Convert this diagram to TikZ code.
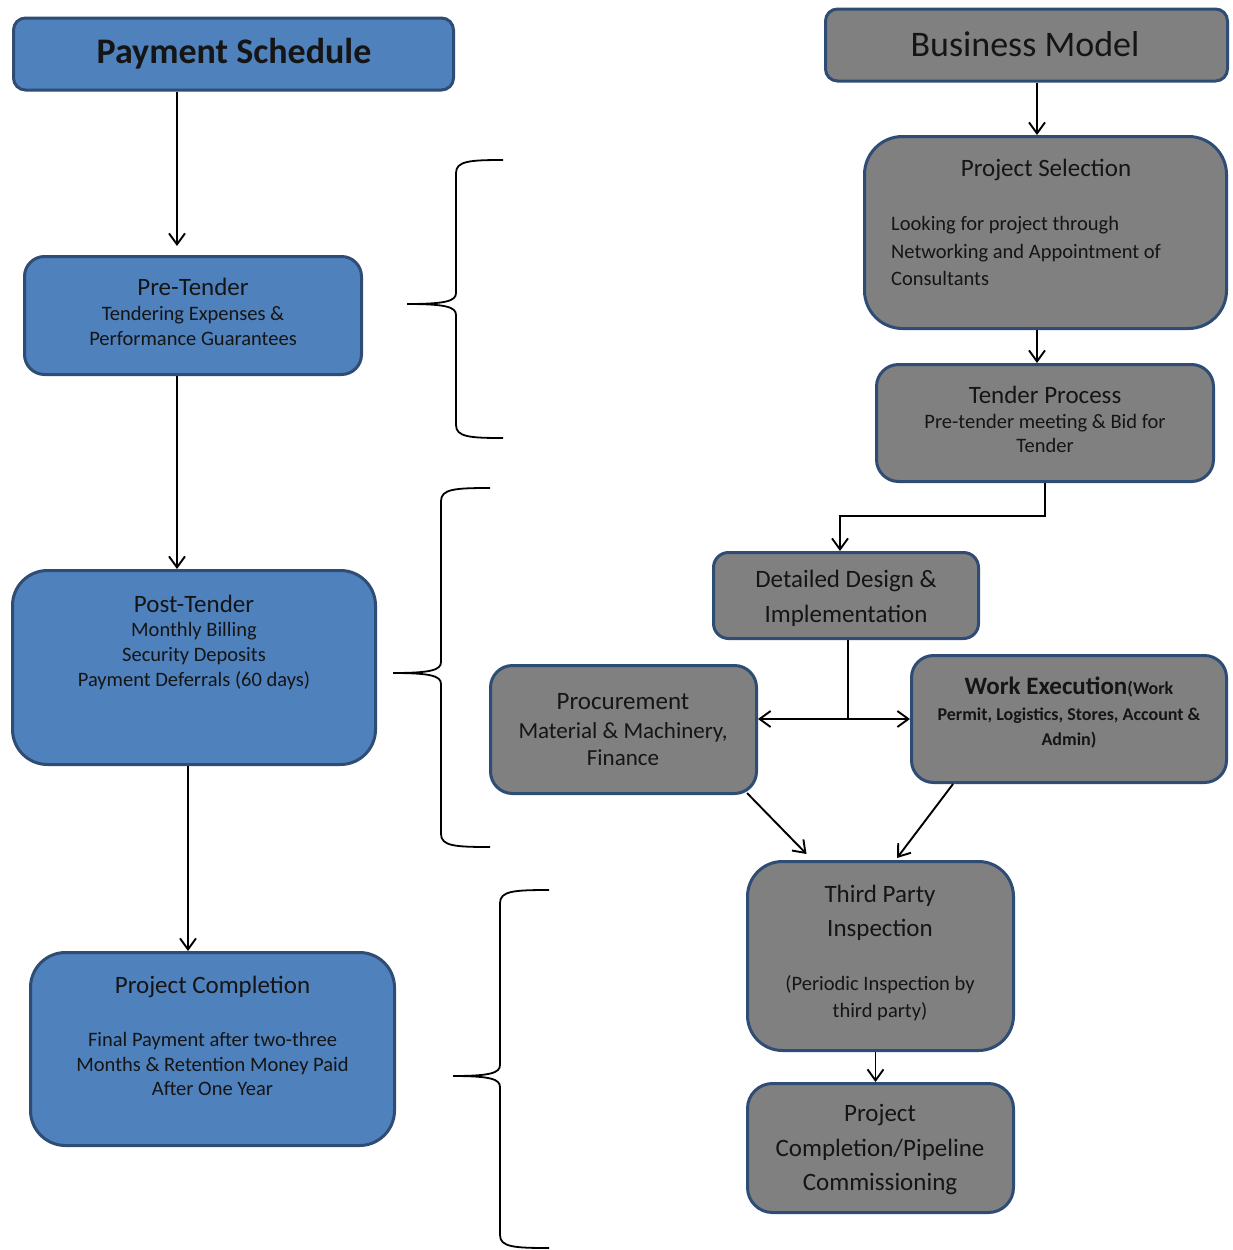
\documentclass[tikz,border=0pt]{standalone}
\usepackage{fontspec}
\setmainfont{Carlito}
\usetikzlibrary{arrows.meta}
\definecolor{bfill}{HTML}{4F81BD}
\definecolor{bdraw}{HTML}{2E4C74}
\definecolor{gfill}{HTML}{808080}
\definecolor{tcol}{HTML}{151515}
\newcommand\curlybr[6]{%
  \draw[brace] (#1,#4) .. controls ({#2+14},#4) and (#2,{#4+1}) .. (#2,{#4+13})
    -- (#2,{#5-11}) .. controls (#2,{#5-3}) and ({#2-10},#5) .. (#3,#5)
    .. controls ({#2-10},#5) and (#2,{#5+3}) .. (#2,{#5+11})
    -- (#2,{#6-13}) .. controls (#2,{#6-1}) and ({#2+14},#6) .. (#1,#6);}
\begin{document}
\begin{tikzpicture}[x=1pt,y=-1pt,
  box/.style={draw=bdraw, line width=3pt, rectangle, inner sep=0pt},
  bluebox/.style={box, fill=bfill},
  graybox/.style={box, fill=gfill},
  txt/.style={inner sep=0pt, align=center, text=tcol},
  ttl/.style={txt, font=\fontsize{25}{29}\selectfont},
  sub/.style={txt, font=\fontsize{20.5}{25}\selectfont},
  tip/.style={Straight Barb[length=11pt,width=16pt]},
  arr/.style={line width=1.9pt, -{Straight Barb[length=11pt,width=16pt]}},
  darr/.style={line width=1.9pt, {Straight Barb[length=11pt,width=16pt]}-{Straight Barb[length=11pt,width=16pt]}},
  brace/.style={line width=1.8pt}]
\useasboundingbox (0,0) rectangle (1232,1250);

% ---------- left column boxes ----------
\node[bluebox, rounded corners=12pt, minimum width=440pt, minimum height=72pt] (pay) at (233.5,54) {};
\node[bluebox, rounded corners=20pt, minimum width=337pt, minimum height=118pt] (pre) at (193,315.5) {};
\node[bluebox, rounded corners=35pt, minimum width=363pt, minimum height=194pt] (post) at (194,667.5) {};
\node[bluebox, rounded corners=35pt, minimum width=364pt, minimum height=193pt] (pcl) at (212.5,1049) {};

% ---------- right column boxes ----------
\node[graybox, rounded corners=12pt, minimum width=402pt, minimum height=72pt] (bm) at (1026.5,45) {};
\node[graybox, rounded corners=38pt, minimum width=362pt, minimum height=192pt] (ps) at (1045.5,232.5) {};
\node[graybox, rounded corners=22pt, minimum width=337pt, minimum height=117pt] (tp) at (1045,423) {};
\node[graybox, rounded corners=15pt, minimum width=265pt, minimum height=86pt] (dd) at (846,595.5) {};
\node[graybox, rounded corners=22pt, minimum width=266pt, minimum height=128pt] (pr) at (623.5,729.5) {};
\node[graybox, rounded corners=22pt, minimum width=315pt, minimum height=127pt] (we) at (1069,719) {};
\node[graybox, rounded corners=35pt, minimum width=266pt, minimum height=189pt] (tpi) at (880.5,956) {};
\node[graybox, rounded corners=25pt, minimum width=266pt, minimum height=129pt] (pcr) at (880.5,1148) {};

% ---------- texts ----------
\node[txt, font=\bfseries\fontsize{36}{40}\selectfont] (payT) at (234,54) {Payment Schedule};
\node[txt, font=\fontsize{36}{40}\selectfont] (bmT) at (1025,44) {Business Model};

\node[ttl] (preT) at (193,287) {Pre-Tender};
\node[sub] (preS) at (193,326) {Tendering Expenses \&\\Performance Guarantees};

\node[ttl] (postT) at (194,604) {Post-Tender};
\node[sub] (postS) at (194,656) {Monthly Billing\\Security Deposits\\Payment Deferrals (60 days)};

\node[ttl] (pclT) at (212.5,987) {Project Completion};
\node[sub, font=\fontsize{20.5}{24.5}\selectfont] (pclS) at (212.5,1064) {Final Payment after two-three\\Months \& Retention Money Paid\\After One Year};

\node[ttl] (psT) at (1046,170) {Project Selection};
\node[sub, anchor=west, align=left, font=\fontsize{20.5}{27.5}\selectfont] (psS) at (891,251) {Looking for project through\\Networking and Appointment of\\Consultants};

\node[ttl] (tpT) at (1045,395) {Tender Process};
\node[sub, font=\fontsize{20.5}{24}\selectfont] (tpS) at (1045,433) {Pre-tender meeting \& Bid for\\Tender};

\node[ttl, font=\fontsize{25}{35}\selectfont] (ddT) at (846,598.5) {Detailed Design \&\\Implementation};

\node[ttl] (prT) at (623,702) {Procurement};
\node[txt, font=\fontsize{23}{27}\selectfont] (prS) at (623,744.5) {Material \& Machinery,\\Finance};

\node[txt, font=\bfseries\fontsize{25}{25}\selectfont] (weT) at (1069,687) {Work Execution{\fontsize{18}{25}\selectfont(Work}};
\node[txt, font=\bfseries\fontsize{18}{25}\selectfont] (weS) at (1069,728.5) {Permit, Logistics, Stores, Account \&\\Admin)};

\node[ttl, font=\fontsize{25}{34}\selectfont] (tpiT) at (880,913) {Third Party\\Inspection};
\node[sub, font=\fontsize{20.5}{27}\selectfont] (tpiS) at (880,998.5) {(Periodic Inspection by\\third party)};

\node[ttl, font=\fontsize{25}{34.5}\selectfont] (pcrT) at (880,1150) {Project\\Completion/Pipeline\\Commissioning};

% ---------- connectors ----------
\draw[arr, shorten >=9pt] ([xshift=-56.5pt]pay.south) -- ([xshift=-16pt]pre.north);
\draw[arr] ([xshift=-16pt]pre.south) -- ([xshift=-17pt]post.north);
\draw[arr] ([xshift=-6pt]post.south) -- ([xshift=-24.5pt]pcl.north);

\draw[arr] ([xshift=10.5pt]bm.south) -- ([xshift=-8.5pt]ps.north);
\draw[arr] ([xshift=-8.5pt]ps.south) -- ([xshift=-8pt]tp.north);
\coordinate (tpbend) at (1045,516);
\draw[arr] (tp.south) -- (tpbend) -| ([xshift=-6pt]dd.north);
\draw[line width=1.9pt] ([xshift=2pt]dd.south) -- ([xshift=2pt]dd.south |- we.west);
\draw[darr] (pr.east |- we.west) -- (we.west);
\draw[arr] ([xshift=-11pt,yshift=2pt]pr.south east) -- ([xshift=-74pt,yshift=6pt]tpi.north);
\draw[arr] ([xshift=-116pt]we.south) -- ([xshift=16.5pt,yshift=2pt]tpi.north);
\draw[arr] ([xshift=-5pt]tpi.south) -- ([xshift=-5pt]pcr.north);

% ---------- braces ----------
\curlybr{503}{456}{407}{160}{304}{438}
\curlybr{490}{441}{393}{488}{673}{847}
\curlybr{549}{500}{453}{890}{1076}{1248}
\end{tikzpicture}
\end{document}
